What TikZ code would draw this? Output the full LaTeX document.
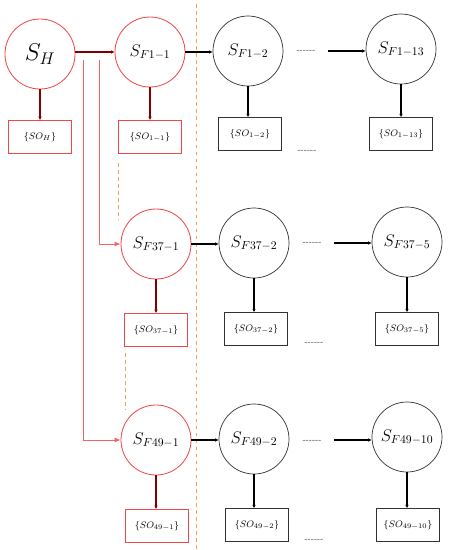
\documentclass[tikz,border=0pt]{standalone}
\usetikzlibrary{arrows.meta}
\definecolor{stred}{RGB}{238,72,72}
\definecolor{stdark}{RGB}{130,0,0}
\definecolor{stbranch}{RGB}{242,100,100}
\definecolor{storange}{RGB}{244,160,90}
\definecolor{stgrey}{RGB}{50,50,50}
\begin{document}
\begin{tikzpicture}[x=0.03cm, y=-0.03cm,
		state/.style={draw=stgrey, line width=0.6pt, circle, minimum size=2.1cm, inner sep=0pt, font=\fontsize{14}{16}\selectfont},
		rstate/.style={state, draw=stred, line width=0.7pt},
		obox/.style={draw=stgrey, line width=0.6pt, minimum width=1.89cm, minimum height=0.98cm, inner sep=0pt, font=\fontsize{8}{9}\selectfont},
		robox/.style={obox, draw=stred, line width=0.7pt},
		arrow/.style={-{Latex[length=3pt,width=3pt]}, line width=1.6pt, black},
		rarrow/.style={arrow, stdark},
		branch/.style={-{Latex[length=5pt,width=4pt]}, line width=0.7pt, stbranch},
		guide/.style={storange, dashed, line width=0.7pt},
		gap/.style={font=\fontsize{7}{8}\selectfont, inner sep=0pt, text=stgrey},
		]
		\useasboundingbox (0,0) rectangle (449,550);
		
		% orange guides
		\draw[guide] (196,4) -- (196,550);
		\draw[guide] (118,163) -- (118,220);
		\draw[guide] (125,353) -- (125,410);
		
		% states
		\node[rstate, font=\fontsize{20}{22}\selectfont] (sH)  at (40, 54)  {$S_H$};
		\node[rstate] (f1a)  at (150,52)  {$S_{F1-1}$};
		\node[state]  (f1b)  at (248,51)  {$S_{F1-2}$};
		\node[state]  (f1m)  at (401,49)  {$S_{F1-13}$};
		\node[rstate] (f37a) at (156,244) {$S_{F37-1}$};
		\node[state]  (f37b) at (254,243) {$S_{F37-2}$};
		\node[state]  (f37m) at (407,242) {$S_{F37-5}$};
		\node[rstate] (f49a) at (156,440) {$S_{F49-1}$};
		\node[state]  (f49b) at (254,439) {$S_{F49-2}$};
		\node[state]  (f49m) at (407,437) {$S_{F49-10}$};
		
		% outputs
		\node[robox] (oH)   at (40, 137) {$\{SO_H\}$};
		\node[robox] (o1a)  at (150,137) {$\{SO_{1-1}\}$};
		\node[obox]  (o1b)  at (250,134) {$\{SO_{1-2}\}$};
		\node[obox]  (o1m)  at (401,134) {$\{SO_{1-13}\}$};
		\node[robox] (o37a) at (156,330) {$\{SO_{37-1}\}$};
		\node[obox]  (o37b) at (256,329) {$\{SO_{37-2}\}$};
		\node[obox]  (o37m) at (407,329) {$\{SO_{37-5}\}$};
		\node[robox] (o49a) at (157,526) {$\{SO_{49-1}\}$};
		\node[obox]  (o49b) at (257,525) {$\{SO_{49-2}\}$};
		\node[obox]  (o49m) at (408,525) {$\{SO_{49-10}\}$};
		
		% gaps
		\node[gap] (d1)   at (306,51)  {{-}{-}{-}{-}{-}{-}};
		\node[gap] (d37)  at (312,243) {{-}{-}{-}{-}{-}{-}};
		\node[gap] (d49)  at (312,441) {{-}{-}{-}{-}{-}{-}};
		\node[gap] (e1)   at (307,151) {{-}{-}{-}{-}{-}{-}};
		\node[gap] (e37)  at (314,343) {{-}{-}{-}{-}{-}{-}};
		\node[gap] (e49)  at (314,540) {{-}{-}{-}{-}{-}{-}};
		
		\coordinate (c1)  at (328,51);
		\coordinate (c37) at (334,243);
		\coordinate (c49) at (334,440);
		\coordinate (b37) at (99,60);
		\coordinate (b49) at (83,60);
		
		% horizontal
		\draw[rarrow] (sH.east |- f1a.west) -- (f1a.west);
		\draw[arrow] (f1a.east) -- (f1a.east -| f1b.west);
		\draw[arrow] (c1) -- (c1 -| f1m.west);
		\draw[arrow] (f37a.east) -- (f37a.east -| f37b.west);
		\draw[arrow] (c37) -- (c37 -| f37m.west);
		\draw[arrow] (f49a.east) -- (f49a.east -| f49b.west);
		\draw[arrow] (c49) -- (c49 -| f49m.west);
		
		% down
		\draw[rarrow] (sH)   -- (sH |- oH.north);
		\draw[rarrow] (f1a)  -- (o1a);
		\draw[arrow]  (f1b)  -- (f1b |- o1b.north);
		\draw[arrow]  (f1m)  -- (o1m);
		\draw[rarrow] (f37a) -- (o37a);
		\draw[arrow]  (f37b) -- (f37b |- o37b.north);
		\draw[arrow]  (f37m) -- (o37m);
		\draw[rarrow] (f49a) -- (f49a |- o49a.north);
		\draw[arrow]  (f49b) -- (f49b |- o49b.north);
		\draw[arrow]  (f49m) -- (f49m |- o49m.north);
		
		% branches
		\draw[branch] (b37) |- (f37a.west);
		\draw[branch] (b49) |- (f49a.west);
		
	\end{tikzpicture}
\end{document}
